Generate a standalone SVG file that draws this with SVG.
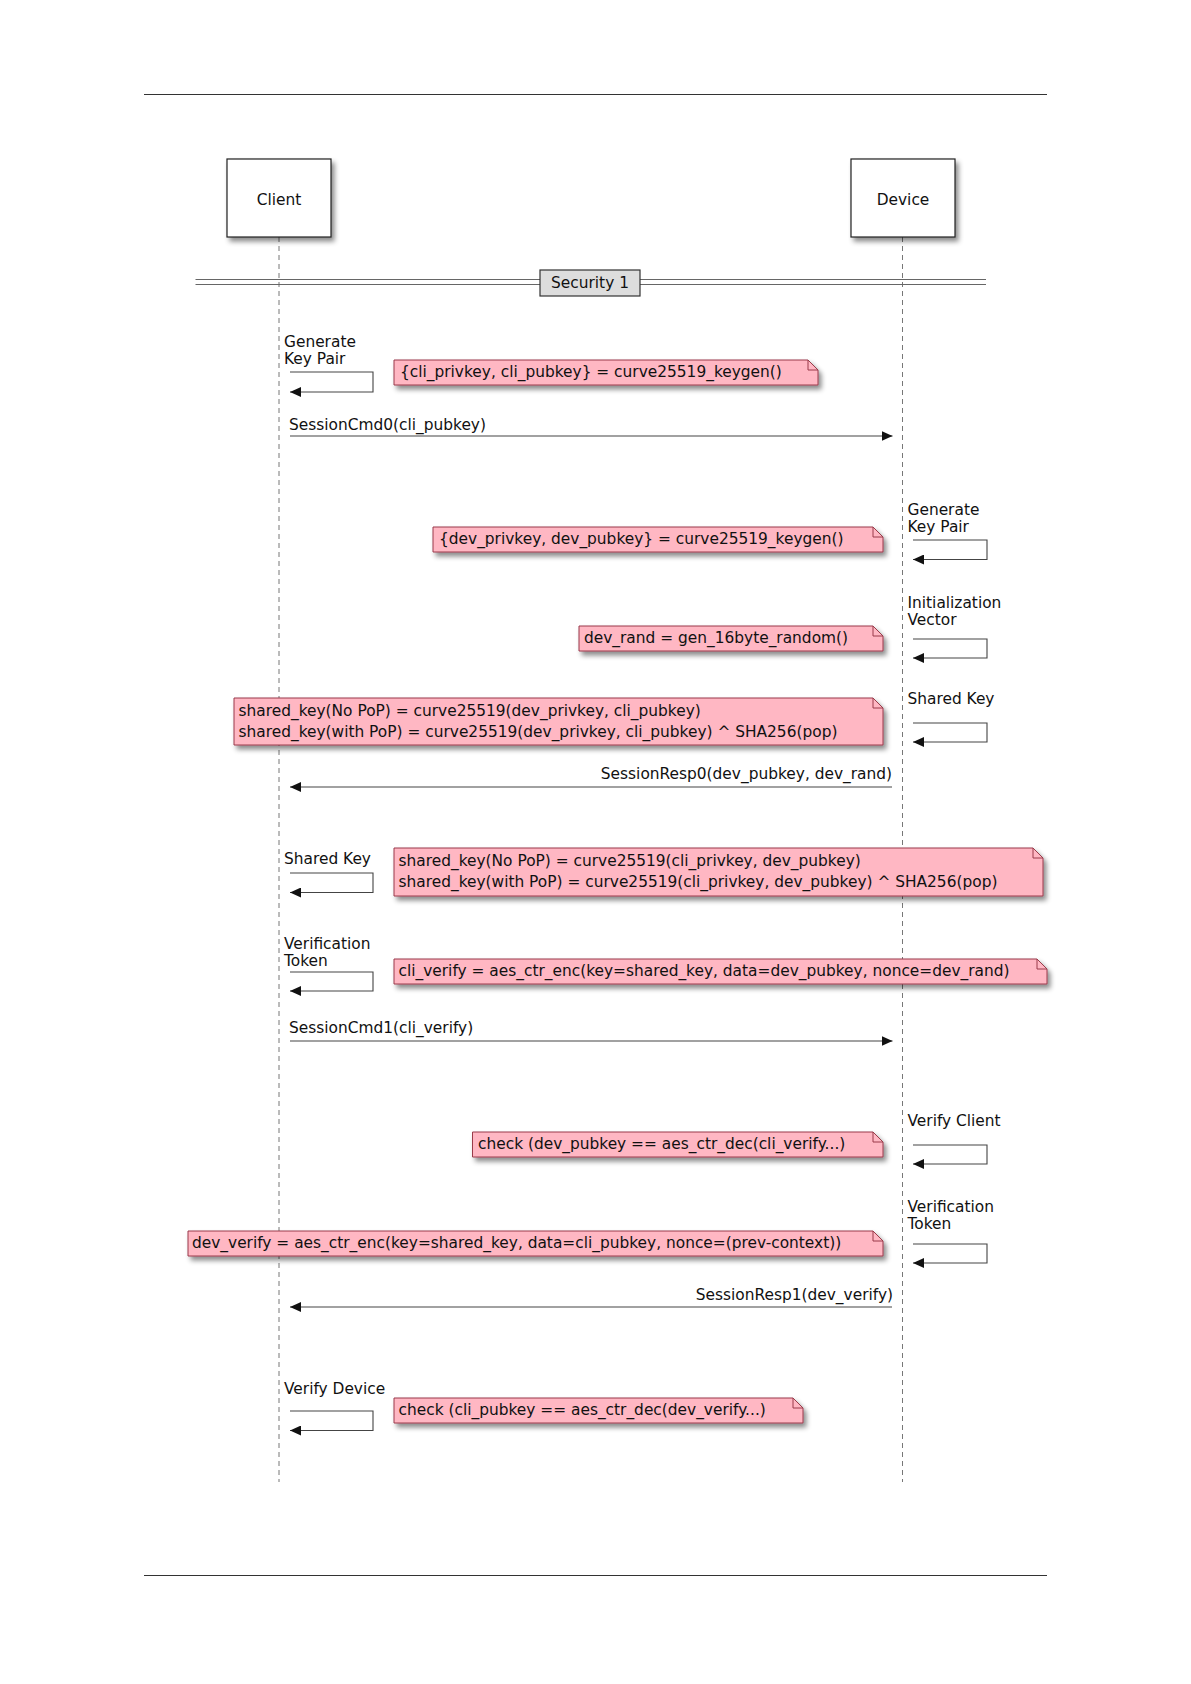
<svg xmlns="http://www.w3.org/2000/svg" width="1191" height="1684" viewBox="0 0 1191 1684">
<style>
text{font-family:"DejaVu Sans","Liberation Sans",sans-serif;font-size:15.4px;fill:#111}
.pbox{fill:#fff;stroke:#222;stroke-width:1.2}
.life{stroke:#777;stroke-width:1;stroke-dasharray:5,4;fill:none}
.note{fill:#FFB7C3;stroke:#9A3A4A;stroke-width:1}
.fold{fill:none;stroke:#9A3A4A;stroke-width:1}
.msg{stroke:#444;stroke-width:1.1;fill:none}
.sep{stroke:#666;stroke-width:1;fill:none}
.page{stroke:#333;stroke-width:1.2}
</style>
<defs>
<filter id="sh" x="-10%" y="-30%" width="120%" height="180%">
<feDropShadow dx="3" dy="4" stdDeviation="2.5" flood-color="#000" flood-opacity="0.45"/>
</filter>
<marker id="ah" markerWidth="12" markerHeight="10" refX="11" refY="5" orient="auto" markerUnits="userSpaceOnUse">
<path d="M0,0 L11,5 L0,10 Z" fill="#111"/>
</marker>
</defs>
<rect width="1191" height="1684" fill="#fff"/>
<line class="page" x1="144" y1="94.5" x2="1047" y2="94.5"/>
<line class="page" x1="144" y1="1575.5" x2="1047" y2="1575.5"/>

<g id="lifelines">
<line class="life" x1="279" y1="237" x2="279" y2="1482"/>
<line class="life" x1="902.5" y1="237" x2="902.5" y2="1482"/>
</g>

<g id="client">
<rect class="pbox" x="227" y="159" width="104" height="78" filter="url(#sh)"/>
<text x="279" y="205" text-anchor="middle">Client</text>
</g>
<g id="device">
<rect class="pbox" x="851" y="159" width="104" height="78" filter="url(#sh)"/>
<text x="903" y="205" text-anchor="middle">Device</text>
</g>

<g id="separator">
<line class="sep" x1="195.5" y1="279.5" x2="986" y2="279.5"/>
<line class="sep" x1="195.5" y1="284.5" x2="986" y2="284.5"/>
<rect x="540" y="270" width="100" height="26" fill="#DDDDDD" stroke="#333" stroke-width="1.2"/>
<text x="590" y="288" text-anchor="middle">Security 1</text>
</g>

<g id="connectors">
<polyline class="msg" points="290,372 373,372 373,392 290,392" marker-end="url(#ah)"/>
<line class="msg" x1="290" y1="436" x2="892.5" y2="436" marker-end="url(#ah)"/>
<polyline class="msg" points="913,540 987,540 987,559.5 913,559.5" marker-end="url(#ah)"/>
<polyline class="msg" points="913,639 987,639 987,658 913,658" marker-end="url(#ah)"/>
<polyline class="msg" points="913,723 987,723 987,742 913,742" marker-end="url(#ah)"/>
<line class="msg" x1="892" y1="787" x2="290" y2="787" marker-end="url(#ah)"/>
<polyline class="msg" points="290,873 373,873 373,892.5 290,892.5" marker-end="url(#ah)"/>
<polyline class="msg" points="290,972 373,972 373,991 290,991" marker-end="url(#ah)"/>
<line class="msg" x1="290" y1="1041" x2="892.5" y2="1041" marker-end="url(#ah)"/>
<polyline class="msg" points="913,1145 987,1145 987,1164 913,1164" marker-end="url(#ah)"/>
<polyline class="msg" points="913,1244 987,1244 987,1263 913,1263" marker-end="url(#ah)"/>
<line class="msg" x1="892" y1="1307" x2="290" y2="1307" marker-end="url(#ah)"/>
<polyline class="msg" points="290,1411 373,1411 373,1430.5 290,1430.5" marker-end="url(#ah)"/>
</g>

<g id="labels">
<text x="284" y="347">Generate</text>
<text x="284" y="364">Key Pair</text>
<text x="289" y="430">SessionCmd0(cli_pubkey)</text>
<text x="907.5" y="515">Generate</text>
<text x="907.5" y="532">Key Pair</text>
<text x="907.5" y="608">Initialization</text>
<text x="907.5" y="625">Vector</text>
<text x="907.5" y="704">Shared Key</text>
<text x="892" y="779" text-anchor="end">SessionResp0(dev_pubkey, dev_rand)</text>
<text x="284" y="864">Shared Key</text>
<text x="284" y="949">Verification</text>
<text x="284" y="966">Token</text>
<text x="289" y="1033">SessionCmd1(cli_verify)</text>
<text x="907.5" y="1126">Verify Client</text>
<text x="907.5" y="1212">Verification</text>
<text x="907.5" y="1229">Token</text>
<text x="893" y="1300" text-anchor="end">SessionResp1(dev_verify)</text>
<text x="284" y="1394">Verify Device</text>
</g>

<g id="note1">
<path class="note" filter="url(#sh)" d="M394,360 H808 L818,370 V385 H394 Z"/>
<path class="fold" d="M808,360 V370 H818"/>
<text x="400" y="377">{cli_privkey, cli_pubkey} = curve25519_keygen()</text>
</g>
<g id="note2">
<path class="note" filter="url(#sh)" d="M433,527 H873 L883,537 V552 H433 Z"/>
<path class="fold" d="M873,527 V537 H883"/>
<text x="439" y="544">{dev_privkey, dev_pubkey} = curve25519_keygen()</text>
</g>
<g id="note3">
<path class="note" filter="url(#sh)" d="M579,626 H873 L883,636 V651 H579 Z"/>
<path class="fold" d="M873,626 V636 H883"/>
<text x="584" y="643">dev_rand = gen_16byte_random()</text>
</g>
<g id="note4">
<path class="note" filter="url(#sh)" d="M234,698 H873 L883,708 V745 H234 Z"/>
<path class="fold" d="M873,698 V708 H883"/>
<text x="238.5" y="716">shared_key(No PoP) = curve25519(dev_privkey, cli_pubkey)</text>
<text x="238.5" y="736.5">shared_key(with PoP) = curve25519(dev_privkey, cli_pubkey) ^ SHA256(pop)</text>
</g>
<g id="note5">
<path class="note" filter="url(#sh)" d="M394,848 H1033 L1043,858 V896 H394 Z"/>
<path class="fold" d="M1033,848 V858 H1043"/>
<text x="398.5" y="866">shared_key(No PoP) = curve25519(cli_privkey, dev_pubkey)</text>
<text x="398.5" y="886.5">shared_key(with PoP) = curve25519(cli_privkey, dev_pubkey) ^ SHA256(pop)</text>
</g>
<g id="note6">
<path class="note" filter="url(#sh)" d="M394,959 H1037 L1047,969 V984 H394 Z"/>
<path class="fold" d="M1037,959 V969 H1047"/>
<text x="398.5" y="976">cli_verify = aes_ctr_enc(key=shared_key, data=dev_pubkey, nonce=dev_rand)</text>
</g>
<g id="note7">
<path class="note" filter="url(#sh)" d="M472.5,1132 H873 L883,1142 V1157 H472.5 Z"/>
<path class="fold" d="M873,1132 V1142 H883"/>
<text x="478" y="1149">check (dev_pubkey == aes_ctr_dec(cli_verify...)</text>
</g>
<g id="note8">
<path class="note" filter="url(#sh)" d="M188,1231 H873 L883,1241 V1256 H188 Z"/>
<path class="fold" d="M873,1231 V1241 H883"/>
<text x="192" y="1248">dev_verify = aes_ctr_enc(key=shared_key, data=cli_pubkey, nonce=(prev-context))</text>
</g>
<g id="note9">
<path class="note" filter="url(#sh)" d="M394,1398 H793 L803,1408 V1423 H394 Z"/>
<path class="fold" d="M793,1398 V1408 H803"/>
<text x="398.5" y="1415">check (cli_pubkey == aes_ctr_dec(dev_verify...)</text>
</g>
</svg>
